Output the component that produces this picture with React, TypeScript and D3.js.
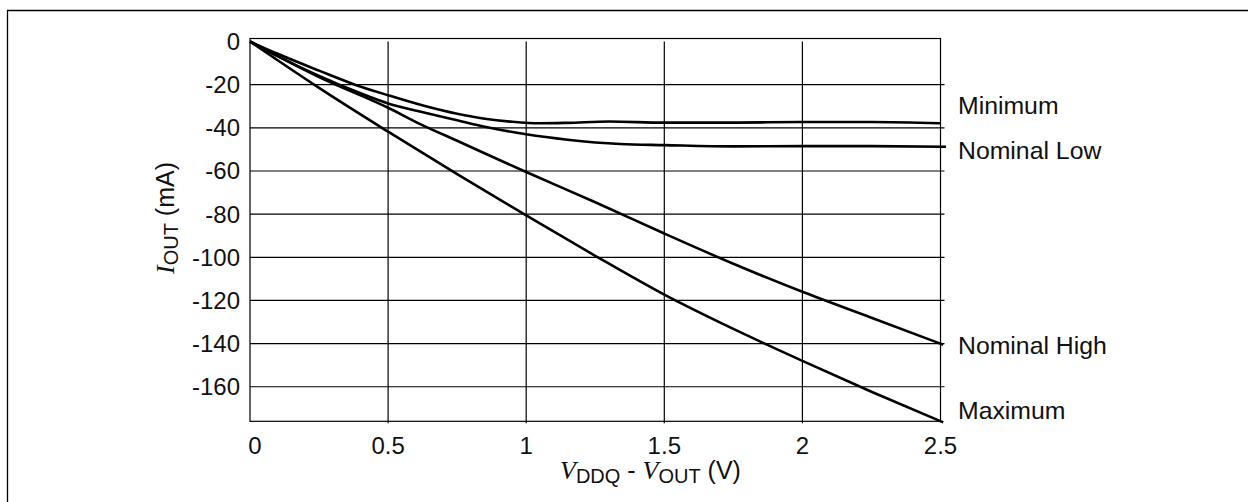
import React from "react";
import * as d3 from "d3";

// ---- data ----
const xTicks = [0, 0.5, 1, 1.5, 2, 2.5];
const xTickLabels = ["0", "0.5", "1", "1.5", "2", "2.5"];
const yTicks = [0, -20, -40, -60, -80, -100, -120, -140, -160];
const yTickLabels = ["0", "-20", "-40", "-60", "-80", "-100", "-120", "-140", "-160"];

const minimumV = [0, 0.1, 0.25, 0.38, 0.5, 0.63, 0.75, 0.85, 0.95, 1.05, 1.15, 1.3, 1.5, 1.75, 2.0, 2.25, 2.5];
const minimumI = [0, -5.7, -13.5, -20, -24.9, -29.8, -33.5, -35.8, -37.2, -37.9, -37.7, -37.1, -37.6, -37.6, -37.3, -37.3, -37.9];

const nominalLowV = [0, 0.1, 0.25, 0.4, 0.5, 0.63, 0.75, 0.85, 1.0, 1.15, 1.34, 1.5, 1.75, 2.0, 2.25, 2.52];
const nominalLowI = [0, -6.8, -16, -24, -28.7, -32.9, -36.5, -39.5, -43, -45.5, -47.5, -48, -48.6, -48.5, -48.5, -48.8];

const nominalHighV = [0, 0.1, 0.25, 0.5, 0.62, 0.75, 1.0, 1.25, 1.5, 1.75, 2.0, 2.25, 2.51];
const nominalHighI = [0, -6.8, -16.5, -30.7, -38.5, -46, -60.5, -74.5, -89, -103, -116, -128, -140.5];

const maximumV = [0, 0.1, 0.25, 0.5, 0.75, 1.0, 1.25, 1.5, 1.75, 2.0, 2.25, 2.51];
const maximumI = [0, -8.7, -21.5, -41.8, -61.5, -80.6, -99.3, -117.3, -133.2, -148, -162.3, -176.5];

const seriesNames = ["Minimum", "Nominal Low", "Nominal High", "Maximum"];
const seriesV = [minimumV, nominalLowV, nominalHighV, maximumV];
const seriesI = [minimumI, nominalLowI, nominalHighI, maximumI];

// ---- layout ----
const W = 1248;
const H = 502;
const PLOT_L = 250;
const PLOT_R = 940.5;
const Y0 = 41.5;
const PLOT_B = 421.3;
const labelX = 958;
const labelY = [114, 159, 354, 419];
const FONT = "'Liberation Sans', Arial, Helvetica, sans-serif";
const SERIF = "'Liberation Serif', 'Times New Roman', serif";

export default function App() {
  const x = d3.scaleLinear().domain([0, 2.5]).range([PLOT_L, PLOT_R]);
  const y = d3.scaleLinear().domain([0, -176]).range([Y0, PLOT_B]);

  const line = d3
    .line<[number, number]>()
    .x((d) => x(d[0]))
    .y((d) => y(d[1]))
    .curve(d3.curveMonotoneX);

  return (
    <svg
      width={W}
      height={H}
      style={{ position: "absolute", left: 0, top: 0, background: "#fff" }}
      fontFamily={FONT}
    >
      {/* outer border (top and left) */}
      <line x1={7} y1={10.5} x2={W} y2={10.5} stroke="#000" strokeWidth={1.3} />
      <line x1={7.5} y1={10} x2={7.5} y2={H} stroke="#000" strokeWidth={1.3} />

      {/* horizontal grid */}
      {yTicks.slice(1).map((t) => (
        <line
          key={"h" + t}
          x1={PLOT_L}
          x2={PLOT_R + 4}
          y1={y(t)}
          y2={y(t)}
          stroke="#000"
          strokeWidth={1.2}
        />
      ))}
      {/* vertical grid */}
      {xTicks.slice(1, -1).map((t) => (
        <line
          key={"v" + t}
          x1={x(t)}
          x2={x(t)}
          y1={Y0}
          y2={PLOT_B + 2}
          stroke="#000"
          strokeWidth={1.2}
        />
      ))}
      {/* frame */}
      <rect
        x={PLOT_L}
        y={Y0 - 3}
        width={PLOT_R - PLOT_L}
        height={PLOT_B - (Y0 - 3)}
        fill="none"
        stroke="#000"
        strokeWidth={1.2}
      />

      {/* curves */}
      {seriesNames.map((name, i) => {
        const pts = seriesV[i].map((v, k) => [v, seriesI[i][k]] as [number, number]);
        return (
          <path
            key={name}
            d={line(pts) || ""}
            fill="none"
            stroke="#000"
            strokeWidth={2.6}
            strokeLinejoin="round"
          />
        );
      })}

      {/* y tick labels */}
      {yTicks.map((t, i) => (
        <text key={"yl" + t} x={240} y={y(t) + 8.5} fontSize={24} textAnchor="end" fill="#111">
          {yTickLabels[i]}
        </text>
      ))}
      {/* x tick labels */}
      {xTicks.map((t, i) => (
        <text
          key={"xl" + t}
          x={x(t) + (i === 0 ? 5 : 0)}
          y={454}
          fontSize={24}
          textAnchor="middle"
          fill="#111"
        >
          {xTickLabels[i]}
        </text>
      ))}

      {/* series labels */}
      {seriesNames.map((name, i) => (
        <text key={"sl" + name} x={labelX} y={labelY[i]} fontSize={24.8} fill="#111">
          {name}
        </text>
      ))}

      {/* x axis title */}
      <text x={560} y={479} fontSize={25} fill="#111">
        <tspan fontFamily={SERIF} fontStyle="italic" fontSize={26}>V</tspan>
        <tspan fontSize={20} dy={4}>DDQ</tspan>
        <tspan dy={-4}>{" - "}</tspan>
        <tspan fontFamily={SERIF} fontStyle="italic" fontSize={26}>V</tspan>
        <tspan fontSize={20} dy={4}>OUT</tspan>
        <tspan dy={-4}>{" (V)"}</tspan>
      </text>

      {/* y axis title */}
      <text transform="translate(174,274) rotate(-90)" fontSize={25} fill="#111">
        <tspan fontFamily={SERIF} fontStyle="italic" fontSize={26}>I</tspan>
        <tspan fontSize={20} dy={4}>OUT</tspan>
        <tspan dy={-4}>{" (mA)"}</tspan>
      </text>
    </svg>
  );
}
